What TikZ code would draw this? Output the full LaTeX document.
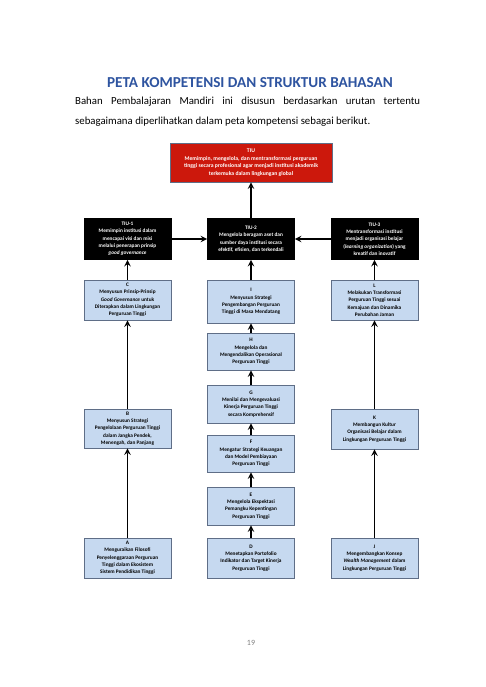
\documentclass[tikz,border=0pt]{standalone}
\usepackage{fontspec}
\setmainfont{Carlito}
\definecolor{titleblue}{RGB}{46,84,160}
\definecolor{boxblue}{RGB}{198,217,240}
\definecolor{boxline}{RGB}{95,110,135}
\definecolor{tiured}{RGB}{204,24,12}
\newcommand{\boxfont}{\fontsize{5.3}{7.3}\selectfont\bfseries}

\begin{document}
\begin{tikzpicture}[x=1pt,y=-1pt,
	box/.style={draw=boxline,line width=0.9pt,fill=boxblue,align=center,font=\boxfont,inner sep=1pt,minimum width=87pt,minimum height=40pt},
	tiubox/.style={draw=black,line width=0.9pt,fill=black,text=white,align=center,font=\boxfont,inner sep=1pt,minimum width=87pt,minimum height=41pt},
	arr/.style={-stealth,line width=1.8pt}]
	\useasboundingbox[fill=white] (0,0) rectangle (485,687);
	% page head
	\node[font=\fontsize{15.2}{17}\selectfont\bfseries,text=titleblue] (title) at (250,83) {PETA KOMPETENSI DAN STRUKTUR BAHASAN};
	\node[anchor=north west,inner sep=0pt,text width=345pt,align=justify,font=\fontsize{10.8}{20}\selectfont] (intro) at (75,97)
		{Bahan Pembalajaran Mandiri ini disusun berdasarkan urutan tertentu\linebreak sebagaimana diperlihatkan dalam peta kompetensi sebagai berikut.};
	% goals
	\node[tiubox,fill=tiured,draw=boxline,minimum width=162pt,minimum height=39pt,font=\fontsize{5.7}{7.6}\selectfont\bfseries] (tiu) at (251,162.5)
		{TIU\\Memimpin, mengelola, dan mentransformasi perguruan\\tinggi secara profesional agar menjadi institusi akademik\\terkemuka dalam lingkungan global};
	\node[tiubox] (tiu1) at (127.5,239) {TIU-1\\Memimpin institusi dalam\\mencapai visi dan misi\\melalui penerapan prinsip\\\textit{good governance}};
	\node[tiubox] (tiu2) at (251,239) {TIU-2\\Mengelola beragam aset dan\\sumber daya institusi secara\\efektif, efisien, dan terkendali};
	\node[tiubox] (tiu3) at (374.5,239) {TIU-3\\Mentransformasi institusi\\menjadi organisasi belajar\\(\textit{learning organization}) yang\\kreatif dan inovatif};
	% left column
	\node[box] (c) at (127.5,300) {C\\Menyusun Prinsip-Prinsip\\\textit{Good Governance} untuk\\Diterapkan dalam Lingkungan\\Perguruan Tinggi};
	\node[box,minimum height=39pt] (b) at (127.5,428.5) {B\\Menyusun Strategi\\Pengelolaan Perguruan Tinggi\\dalam Jangka Pendek,\\Menengah, dan Panjang};
	\node[box] (a) at (127.5,558) {A\\Menguraikan Filosofi\\Penyelenggaraan Perguruan\\Tinggi dalam Ekosistem\\Sistem Pendidikan Tinggi};
	% middle column
	\node[box,minimum height=43pt] (i) at (251,301.5) {I\\Menyusun Strategi\\Pengembangan Perguruan\\Tinggi di Masa Mendatang};
	\node[box,minimum height=37pt] (h) at (251,351.5) {H\\Mengelola dan\\Mengendalikan Operasional\\Perguruan Tinggi};
	\node[box,minimum height=38pt] (g) at (251,404) {G\\Menilai dan Mengevaluasi\\Kinerja Perguruan Tinggi\\secara Komprehensif};
	\node[box,minimum height=37pt] (f) at (251,453.5) {F\\Mengatur Strategi Keuangan\\dan Model Pembiayaan\\Perguruan Tinggi};
	\node[box,minimum height=38pt] (e) at (251,506) {E\\Mengelola Ekspektasi\\Pemangku Kepentingan\\Perguruan Tinggi};
	\node[box] (d) at (251,558) {D\\Menetapkan Portofolio\\Indikator dan Target Kinerja\\Perguruan Tinggi};
	% right column
	\node[box] (l) at (374.5,300) {L\\Melakukan Transformasi\\Perguruan Tinggi sesuai\\Kemajuan dan Dinamika\\Perubahan Jaman};
	\node[box] (k) at (374.5,429) {K\\Membangun Kultur\\Organisasi Belajar dalam\\Lingkungan Perguruan Tinggi};
	\node[box] (j) at (374.5,558) {J\\Mengembangkan Konsep\\\textit{Wealth Management} dalam\\Lingkungan Perguruan Tinggi};
	\path[arr]
		(a) edge (b)
		(b) edge (c)
		(c) edge (tiu1)
		(d) edge (e)
		(e) edge (f)
		(f) edge (g)
		(g) edge (h)
		(h) edge (i)
		(i) edge (tiu2)
		(j) edge (k)
		(k) edge (l)
		(l) edge (tiu3)
		(tiu1) edge (tiu2)
		(tiu3) edge (tiu2)
		(tiu2) edge (tiu);
	\node[text=gray,font=\fontsize{8}{10}\selectfont] (pagenum) at (251,643) {19};
\end{tikzpicture}
\end{document}
